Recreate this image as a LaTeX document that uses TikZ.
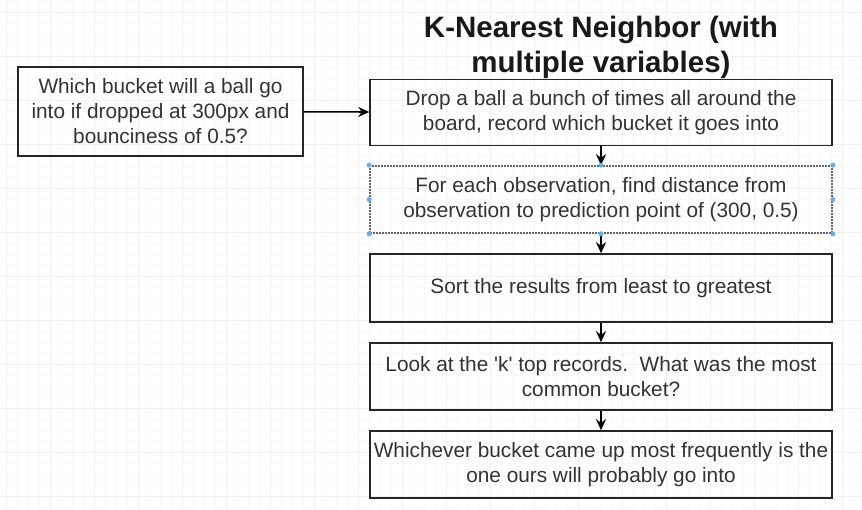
\documentclass[tikz,border=0pt]{standalone}
\usepackage{fontspec}
\setmainfont{Liberation Sans}[Ligatures=TeXOff]
\usetikzlibrary{arrows.meta}
\definecolor{txt}{HTML}{333333}
\definecolor{handle}{HTML}{5FB0F0}
\tikzset{
  box/.style={draw=black!85, line width=1.6pt, minimum width=462pt, align=center, text=txt, font=\fontsize{20.8}{25}\selectfont, inner sep=0pt},
  selbox/.style={box, draw=black!60, dashed, dash pattern=on 2pt off 1pt},
  conn/.style={draw=black, line width=1.6pt, -{Stealth[length=11pt,width=10pt]}},
  hdl/.style={circle, fill=handle, inner sep=0pt, minimum size=5pt},
}
\begin{document}
\begin{tikzpicture}[x=1pt,y=-1pt]
\useasboundingbox (0,0) rectangle (862,510);
\fill[white] (0,0) rectangle (862,510);
\foreach \x in {6,17,...,862} \draw[black!2.5, line width=0.6pt] (\x,0) -- (\x,510);
\foreach \y in {1,12,...,510} \draw[black!2.5, line width=0.6pt] (0,\y) -- (862,\y);
\foreach \x in {6,50,...,862} \draw[black!5, line width=0.8pt] (\x,0) -- (\x,510);
\foreach \y in {12,56,...,510} \draw[black!5, line width=0.8pt] (0,\y) -- (862,\y);

\node[font=\bfseries\fontsize{29.5}{35}\selectfont, align=center, text=black!90] (title) at (601,47) {K-Nearest Neighbor (with\\multiple variables)};

\node[box, minimum width=285pt, minimum height=89pt] (q) at (160.5,111.5) {Which bucket will a ball go\\into if dropped at 300px and\\bounciness of 0.5?};
\node[box, minimum height=66pt] (b1) at (601,112.5) {Drop a ball a bunch of times all around the\\board, record which bucket it goes into};
\node[selbox, minimum height=67pt] (b2) at (601,199.5) {For each observation, find distance from\\observation to prediction point of (300, 0.5)};
\node[box, minimum height=68pt] (b3) at (601,288) {Sort the results from least to greatest};
\node[box, minimum height=67pt] (b4) at (601,376.5) {Look at the 'k' top records.\ \ What was the most\\common bucket?};
\node[box, minimum height=67pt] (b5) at (601,464.5) {Whichever bucket came up most frequently is the\\one ours will probably go into};

\draw[conn] (q) -- (b1);
\draw[conn] (b1) -- (b2);
\draw[conn] (b2) -- (b3);
\draw[conn] (b3) -- (b4);
\draw[conn] (b4) -- (b5);

\foreach \a in {north west,north,north east,west,east,south west,south,south east}
  \node[hdl] at (b2.\a) {};
\end{tikzpicture}
\end{document}
